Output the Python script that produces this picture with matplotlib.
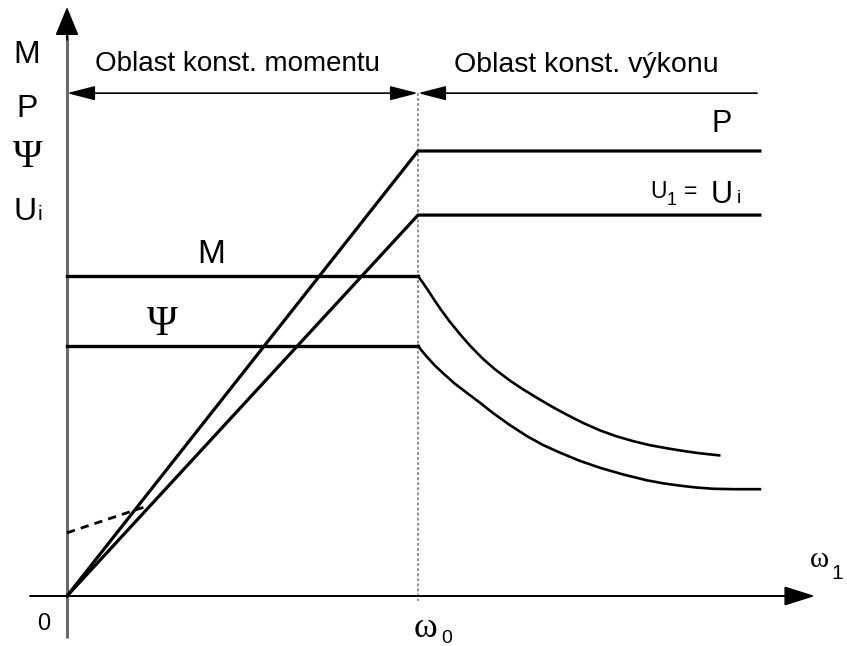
import matplotlib
matplotlib.use("Agg")
import matplotlib.pyplot as plt

# ---------------- data (omega in units of omega0, values normalised to P) ----
omega_const = [0.0, 1.0]
M_const = [0.719, 0.719]
Psi_const = [0.562, 0.562]

omega_ramp = [0.0, 1.0, 1.974]
P_vals = [0.0, 1.0, 1.0]
Ui_vals = [0.0, 0.856, 0.856]

omega_M_fw = [1.0, 1.013, 1.026, 1.045, 1.063, 1.09, 1.120, 1.15, 1.185, 1.22, 1.262, 1.30,
              1.348, 1.385, 1.425, 1.47, 1.519, 1.565, 1.613, 1.66, 1.709, 1.755, 1.800, 1.858]
M_fw = [0.719, 0.705, 0.690, 0.667, 0.646, 0.617, 0.588, 0.561, 0.533, 0.509, 0.484, 0.464,
        0.441, 0.424, 0.407, 0.389, 0.372, 0.359, 0.348, 0.339, 0.332, 0.326, 0.321, 0.316]

omega_Psi_fw = [1.0, 1.013, 1.026, 1.048, 1.071, 1.105, 1.140, 1.177, 1.214, 1.26, 1.311, 1.357,
                1.405, 1.46, 1.519, 1.585, 1.652, 1.70, 1.746, 1.79, 1.840, 1.90, 1.974]
Psi_fw = [0.562, 0.549, 0.537, 0.518, 0.501, 0.477, 0.456, 0.434, 0.411, 0.385, 0.359, 0.339,
          0.322, 0.304, 0.288, 0.273, 0.260, 0.253, 0.248, 0.244, 0.241, 0.240, 0.240]

omega_dash = [0.0, 0.228]
U1_dash = [0.142, 0.202]

region_y = 1.130
region_split = 1.0
region_right_end = 1.966

# ---------------- figure ----------------
W, H = 847, 646
fig = plt.figure(figsize=(W / 100, H / 100), dpi=100)
ax = fig.add_axes([0, 0, 1, 1])
x0px, y0px, sx, sy = 67.0, 596.0, 351.0, 445.0
ax.set_xlim((0 - x0px) / sx, (W - x0px) / sx)
ax.set_ylim((y0px - H) / sy, (y0px - 0) / sy)
ax.axis("off")

def fx(px):
    return (px - x0px) / sx

def fy(py):
    return (y0px - py) / sy

# axes
ax.plot([0, 0], [fy(638), fy(35)], color="#6a6a6a", lw=2.2, solid_capstyle="butt", zorder=2)
ax.annotate("", xy=(0, fy(7)), xytext=(0, fy(40)),
            arrowprops=dict(arrowstyle="-|>,head_length=0.9,head_width=0.37",
                            mutation_scale=20, color="black", lw=1.2,
                            shrinkA=0, shrinkB=0), zorder=3)
ax.annotate("", xy=(fx(815), 0), xytext=(fx(30), 0),
            arrowprops=dict(arrowstyle="-|>,head_length=0.95,head_width=0.30",
                            mutation_scale=20, color="black", lw=1.4,
                            shrinkA=0, shrinkB=0), zorder=3)

# omega0 dotted line
ax.plot([region_split, region_split], [region_y, fy(601)], color="#8a8a8a", lw=1.3,
        linestyle=(0, (1.6, 1.2)), zorder=1)

# region arrows
ax.annotate("", xy=(0, region_y), xytext=(region_split, region_y),
            arrowprops=dict(arrowstyle="<|-|>,head_length=0.86,head_width=0.22",
                            mutation_scale=20, color="black", lw=1.2,
                            shrinkA=0, shrinkB=0))
ax.annotate("", xy=(region_split, region_y), xytext=(region_right_end, region_y),
            arrowprops=dict(arrowstyle="-|>,head_length=0.86,head_width=0.22",
                            mutation_scale=20, color="black", lw=1.2,
                            shrinkA=0, shrinkB=0))

# curves
ax.plot(omega_ramp, P_vals, color="black", lw=2.3, solid_joinstyle="miter")
ax.plot(omega_ramp, Ui_vals, color="black", lw=2.3, solid_joinstyle="miter")
ax.plot(omega_const, M_const, color="black", lw=2.4)
ax.plot(omega_const, Psi_const, color="black", lw=2.4)
ax.plot(omega_M_fw, M_fw, color="black", lw=1.9)
ax.plot(omega_Psi_fw, Psi_fw, color="black", lw=1.9)
ax.plot(omega_dash, U1_dash, color="black", lw=2.0, dashes=(3.0, 2.2))

# ---------------- texts ----------------
SANS = ["Liberation Sans", "DejaVu Sans"]
SERIF = ["Liberation Serif", "DejaVu Serif"]

def t(px, py, s, size, ha="center", fam=SANS):
    fig.text(px / W, 1 - py / H, s, fontsize=size, ha=ha, va="baseline",
             family=fam, color="black")

# left axis labels
t(27, 63, "M", 23)
t(27, 117, "P", 23)
t(28, 167, "Ψ", 29, fam=SERIF)
t(14, 220, "U", 23, ha="left")
t(38, 220, "i", 15, ha="left")

# region labels
t(237, 71, "Oblast konst. momentu", 20)
t(586, 72, "Oblast konst. výkonu", 20.5)

# right labels
t(722, 132, "P", 22)
t(650, 198, "U", 16.5, ha="left")
t(667, 205, "1", 13, ha="left")
t(684, 198, "=", 16.5, ha="left")
t(711, 203, "U", 22, ha="left")
t(737, 203, "i", 14, ha="left")

# curve labels
t(211, 263, "M", 24)
t(162, 335, "Ψ", 30, fam=SERIF)

# x-axis labels
t(44, 630, "0", 17)
t(425, 637, "ω", 26, fam=SERIF)
t(441, 643, "0", 14, ha="left")
t(819, 567, "ω", 21, fam=SERIF)
t(831, 579, "1", 15, ha="left")

fig.savefig("out.png", dpi=100, facecolor="white")
